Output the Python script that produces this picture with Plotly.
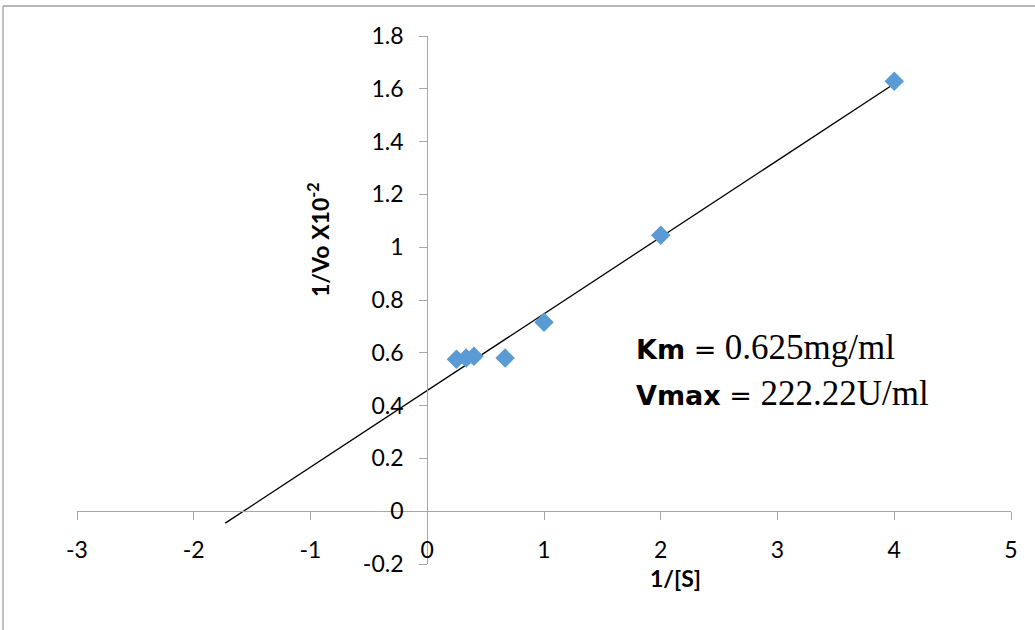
import numpy as np
import plotly.graph_objects as go

# Lineweaver-Burk data (1/[S], 1/Vo x10^-2)
inv_s = [0.25, 0.333, 0.4, 0.667, 1.0, 2.0, 4.0]
inv_v = [0.576, 0.580, 0.587, 0.580, 0.716, 1.045, 1.629]
trend_start = -1.73  # backward forecast of the linear trendline

x_ticks = [-3, -2, -1, 0, 1, 2, 3, 4, 5]
x_tick_text = ["-3", "-2", "-1", "0", "1", "2", "3", "4", "5"]
y_ticks = [-0.2, 0, 0.2, 0.4, 0.6, 0.8, 1, 1.2, 1.4, 1.6, 1.8]
y_tick_text = ["-0.2", "0", "0.2", "0.4", "0.6", "0.8", "1", "1.2", "1.4", "1.6", "1.8"]

km_text = "0.625mg/ml"
vmax_text = "222.22U/ml"

slope, intercept = np.polyfit(inv_s, inv_v, 1)
tx = [trend_start, max(inv_s)]
ty = [slope * v + intercept for v in tx]

AX = "#a6a6a6"
SANS = "Lato"
SERIF = "Liberation Serif"

# page body margin is removed by post_script, so screen px == figure px
SX0, SX1, SY0, SY1 = 77, 1011, 36, 564
L, T = SX0, SY0
R, B = 1035 - SX1, 630 - SY1
PW, PH = SX1 - SX0, SY1 - SY0


def px(xs):
    return (xs - SX0) / PW


def py(ys):
    return (SY1 - ys) / PH


fig = go.Figure()
fig.add_trace(go.Scatter(x=tx, y=ty, mode="lines",
                         line=dict(color="black", width=1.3), hoverinfo="skip"))
fig.add_trace(go.Scatter(x=inv_s, y=inv_v, mode="markers",
                         marker=dict(symbol="diamond", size=15, color="#5b9bd5")))

serif_span = "<span style='font-family:" + SERIF + ";font-size:35px'>"

fig.update_layout(
    width=1035, height=630,
    margin=dict(l=L, r=R, t=T, b=B, autoexpand=False),
    paper_bgcolor="white", plot_bgcolor="white",
    showlegend=False,
    font=dict(family=SANS, size=23, color="black"),
    xaxis=dict(range=[-3, 5], tickvals=x_ticks, ticktext=x_tick_text,
               showgrid=False, zeroline=False, automargin=False,
               showline=True, linecolor=AX, linewidth=1.3,
               ticks="outside", ticklen=8, tickcolor=AX, tickwidth=1.3,
               anchor="free", position=0.1, ticklabelstandoff=10),
    yaxis=dict(range=[-0.2, 1.8], tickvals=y_ticks, ticktext=y_tick_text,
               showgrid=False, zeroline=False, automargin=False,
               showline=True, linecolor=AX, linewidth=1.3,
               ticks="outside", ticklen=8, tickcolor=AX, tickwidth=1.3,
               anchor="free", position=0.375, ticklabelstandoff=11),
    shapes=[
        dict(type="line", xref="paper", yref="paper",
             x0=px(3), x1=px(1045), y0=py(6), y1=py(6),
             line=dict(color="#a0a0a0", width=1.3)),
        dict(type="line", xref="paper", yref="paper",
             x0=px(3), x1=px(3), y0=py(6), y1=py(650),
             line=dict(color="#a0a0a0", width=1.3)),
    ],
    annotations=[
        dict(text="<b>1/[S]</b>", xref="paper", yref="paper",
             x=px(675), y=py(578), showarrow=False,
             font=dict(family=SANS, size=23), xanchor="center", yanchor="middle"),
        dict(text="<b>1/Vo X10<sup>-2</sup></b>", xref="paper", yref="paper",
             x=px(318), y=py(240), showarrow=False, textangle=-90,
             font=dict(family=SANS, size=23), xanchor="center", yanchor="middle"),
        dict(text="<b>Km</b> = " + serif_span + km_text + "</span>",
             xref="paper", yref="paper", x=px(634), y=py(348),
             showarrow=False, xanchor="left", yanchor="middle",
             font=dict(family="DejaVu Sans", size=27)),
        dict(text="<b>Vmax</b> = " + serif_span + vmax_text + "</span>",
             xref="paper", yref="paper", x=px(634), y=py(393),
             showarrow=False, xanchor="left", yanchor="middle",
             font=dict(family="DejaVu Sans", size=27)),
    ],
)

fig.write_html(
    "out.html",
    config={"displayModeBar": False},
    post_script="document.body.style.margin='0px';document.body.style.overflow='hidden';",
)
